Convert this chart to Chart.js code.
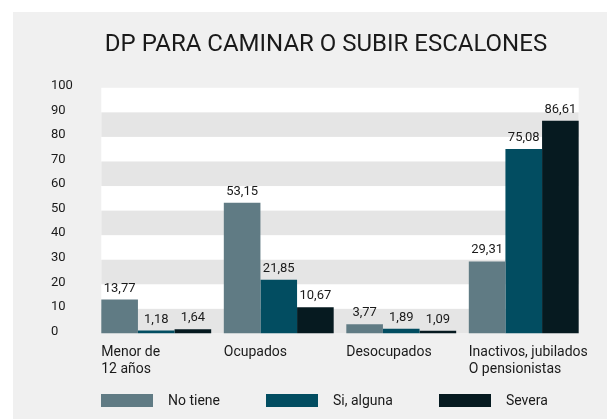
<!DOCTYPE html>
<html>
<head>
<meta charset="utf-8">
<script src="https://cdn.jsdelivr.net/npm/chart.js@4.4.1/dist/chart.umd.min.js"></script>
<style>
  html, body { margin: 0; padding: 0; background: #fff; font-family: Roboto, sans-serif; }
  .panel { position: absolute; left: 13px; top: 12px; width: 594px; height: 407px; background: #f0f0f0; }
  canvas { display: block; }
  #legend { position: absolute; left: 101px; top: 392px; display: flex; align-items: center; font-size: 14px; color: #1a1a1a; }
  #legend .item { display: flex; align-items: center; margin-right: 46px; }
  #legend .box { width: 52px; height: 13px; margin-right: 15px; }
</style>
</head>
<body>
<div class="panel"><canvas id="chart" width="594" height="407"></canvas></div>
<div id="legend"></div>
<script>
const categories = [["Menor de", "12 años"], "Ocupados", "Desocupados", ["Inactivos, jubilados", "O pensionistas"]];
const noTiene = [13.77, 53.15, 3.77, 29.31];
const siAlguna = [1.18, 21.85, 1.89, 75.08];
const severa = [1.64, 10.67, 1.09, 86.61];
const seriesNames = ["No tiene", "Si, alguna", "Severa"];
const seriesColors = ["#607b84", "#024d61", "#061a20"];

const catPct = 0.897;
const textColor = "#1a1a1a";

// white plot with grey bands every other 10 units
const bandsPlugin = {
  id: "bands",
  beforeDatasetsDraw(chart) {
    const { ctx, scales: { x, y } } = chart;
    const catW = (x.right - x.left) / categories.length;
    const inset = catW * (1 - catPct) / 2;
    const left = x.left + inset;
    const right = x.right - inset;
    ctx.save();
    ctx.fillStyle = "#ffffff";
    ctx.fillRect(left, y.top, right - left, y.bottom - y.top);
    ctx.fillStyle = "#e5e5e5";
    for (let v = 0; v < 100; v += 20) {
      const y0 = y.getPixelForValue(v);
      const y1 = y.getPixelForValue(v + 10);
      ctx.fillRect(left, y1, right - left, y0 - y1);
    }
    ctx.restore();
  }
};

// value labels over bars
const valueLabels = {
  id: "valueLabels",
  afterDatasetsDraw(chart) {
    const { ctx } = chart;
    ctx.save();
    ctx.font = "13px Roboto";
    ctx.fillStyle = textColor;
    ctx.textAlign = "center";
    ctx.textBaseline = "alphabetic";
    chart.data.datasets.forEach((ds, i) => {
      chart.getDatasetMeta(i).data.forEach((bar, j) => {
        ctx.fillText(ds.data[j].toFixed(2).replace(".", ","), bar.x, bar.y - 8);
      });
    });
    ctx.restore();
  }
};

const chart = new Chart(document.getElementById("chart"), {
  type: "bar",
  data: {
    labels: categories,
    datasets: [
      { label: seriesNames[0], data: noTiene, backgroundColor: seriesColors[0] },
      { label: seriesNames[1], data: siAlguna, backgroundColor: seriesColors[1] },
      { label: seriesNames[2], data: severa, backgroundColor: seriesColors[2] }
    ]
  },
  options: {
    responsive: false,
    animation: false,
    devicePixelRatio: 1,
    categoryPercentage: catPct,
    barPercentage: 1,
    layout: { padding: { left: 38, right: 6, top: 0, bottom: 30 } },
    plugins: {
      legend: { display: false },
      tooltip: { enabled: false },
      title: {
        display: true,
        text: "DP PARA CAMINAR O SUBIR ESCALONES",
        color: textColor,
        font: { family: "Roboto", size: 24, weight: "normal" },
        padding: { top: 19, bottom: 28 }
      }
    },
    scales: {
      x: {
        grid: { display: false, drawTicks: false },
        border: { display: false },
        ticks: {
          color: textColor,
          font: { family: "Roboto", size: 14, lineHeight: 1.2 },
          align: "start",
          labelOffset: -55,
          padding: 11,
          maxRotation: 0,
          autoSkip: false
        },
        afterFit(scale) { scale.paddingLeft = 0; scale.paddingRight = 0; }
      },
      y: {
        min: 0,
        max: 100,
        grid: { display: false, drawTicks: false },
        border: { display: false },
        ticks: {
          stepSize: 10,
          color: textColor,
          font: { family: "Roboto", size: 13 },
          crossAlign: "far",
          labelOffset: -2
        },
        afterFit(scale) { scale.width = 44; }
      },
      pad: {
        position: "right",
        display: true,
        grid: { display: false },
        border: { display: false },
        ticks: { display: false },
        afterFit(scale) { scale.width = 16; }
      }
    }
  },
  plugins: [bandsPlugin, valueLabels]
});

// html legend built from the chart's own legend items
const legendEl = document.getElementById("legend");
chart.options.plugins.legend.labels.generateLabels(chart).forEach(item => {
  const el = document.createElement("div");
  el.className = "item";
  const box = document.createElement("span");
  box.className = "box";
  box.style.background = item.fillStyle;
  const txt = document.createElement("span");
  txt.textContent = item.text;
  el.appendChild(box);
  el.appendChild(txt);
  legendEl.appendChild(el);
});
</script>
</body>
</html>
